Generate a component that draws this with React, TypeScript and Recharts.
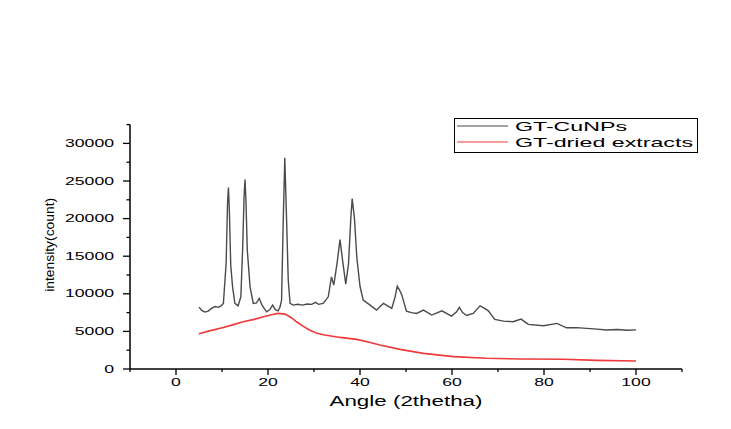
import { LineChart, Line, XAxis, YAxis, Label } from 'recharts';

// GT-CuNPs pattern
const cuAngles = [
  5.0, 5.6, 6.3, 7.0, 7.8, 8.5, 9.2, 9.8, 10.3, 10.9, 11.2, 11.4, 11.6, 11.9, 12.3, 12.8, 13.5,
  14.1, 14.5, 14.8, 15.0, 15.2, 15.5, 16.1, 16.8, 17.5, 18.1, 18.7, 19.7, 20.4, 21.0, 21.6, 22.2,
  22.6, 22.95, 23.3, 23.65, 24.0, 24.4, 24.8, 25.5, 26.5, 27.5, 28.5, 29.5, 30.3, 31.0, 32.0,
  33.1, 33.8, 34.3, 35.0, 35.65, 36.2, 36.9, 37.5, 38.0, 38.3, 38.8, 39.3, 40.0, 40.7, 42.2,
  43.6, 44.3, 45.1, 46.0, 46.9, 47.6, 48.1, 48.6, 49.1, 50.1, 51.2, 52.3, 53.8, 55.6, 57.8,
  59.9, 61.0, 61.6, 62.3, 63.2, 64.6, 66.1, 67.0, 67.9, 69.3, 71.2, 73.3, 75.0, 76.6, 79.9,
  82.8, 84.9, 87.0, 89.3, 91.5, 93.6, 96.0, 98.0, 100.0,
];
const cuCounts = [
  8230, 7800, 7570, 7700, 8100, 8300, 8200, 8400, 8720, 14070, 22000, 24120, 21000, 13800, 10930, 8720, 8400,
  9600, 16240, 23000, 25180, 22500, 15800, 10930, 8720, 8800, 9380, 8500, 7610, 7900, 8500, 7900, 7740,
  8200, 9160, 19340, 28100, 20670, 11810, 8720, 8500, 8600, 8500, 8650, 8600, 8870, 8600, 8720,
  9600, 12250, 11150, 14000, 17200, 14500, 11280, 14000, 20000, 22660, 20000, 14900, 11000, 9160, 8500,
  7830, 8270, 8720, 8400, 8050, 9500, 11020, 10500, 9820, 7700, 7500, 7390, 7830, 7170, 7740,
  7040, 7600, 8190, 7500, 7120, 7390, 8400, 8100, 7740, 6590, 6370, 6280, 6640, 5930, 5750,
  6060, 5480, 5500, 5400, 5300, 5180, 5250, 5150, 5200,
];

// GT-dried extracts pattern
const extractAngles = [
  5.0, 5.2, 7.5, 10.3, 12.5, 14.6, 17.0, 19.0, 21.0, 22.2, 23.7, 25.0, 26.2, 27.6, 29.1, 30.5,
  32.0, 35.7, 39.3, 42.0, 44.3, 48.7, 53.8, 60.3, 67.5, 74.8, 84.2, 91.5, 100.0,
];
const extractCounts = [
  4650, 4730, 5100, 5530, 5900, 6280, 6600, 6940, 7250, 7390, 7300, 6850, 6280, 5700, 5150, 4800,
  4550, 4200, 3940, 3550, 3190, 2610, 2080, 1640, 1420, 1330, 1290, 1150, 1060,
];

const seriesNames = ['GT-CuNPs', 'GT-dried extracts'];
const xTicks = [-10, 0, 10, 20, 30, 40, 50, 60, 70, 80, 90, 100, 110];
const yTicks = [0, 2500, 5000, 7500, 10000, 12500, 15000, 17500, 20000, 22500, 25000, 27500, 30000, 32500];

const cuData = cuAngles.map((x, i) => ({ x, y: cuCounts[i] }));
const extractData = extractAngles.map((x, i) => ({ x, y: extractCounts[i] }));

const FONT = '"Liberation Sans", Arial, sans-serif';
const CHAR_W = 9.8;
const GRAY = '#4a4a4a';
const RED = '#ee3a3a';

const XTick = (props: any) => {
  const { x, y, payload } = props;
  const v = payload.value;
  const major = v % 20 === 0 && v >= 0 && v <= 100;
  const s = String(v);
  return (
    <g>
      <line x1={x} x2={x} y1={y} y2={y + (major ? 6 : 3)} stroke="#000" strokeWidth={1.3} />
      {major && (
        <text x={x} y={y + 16.5} textAnchor="middle" fontSize={10} fontFamily={FONT} fill="#000"
          textLength={s.length * CHAR_W} lengthAdjust="spacingAndGlyphs">{s}</text>
      )}
    </g>
  );
};

const YTick = (props: any) => {
  const { x, y, payload } = props;
  const v = payload.value;
  const major = v % 5000 === 0 && v <= 30000;
  const s = String(v);
  return (
    <g>
      <line x1={x} x2={x - (major ? 7 : 3.5)} y1={y} y2={y} stroke="#000" strokeWidth={1.3} />
      {major && (
        <text x={x - 16} y={y + 3.6} textAnchor="end" fontSize={10} fontFamily={FONT} fill="#000"
          textLength={s.length * CHAR_W} lengthAdjust="spacingAndGlyphs">{s}</text>
      )}
    </g>
  );
};

const XTitle = (props: any) => {
  const vb = props.viewBox;
  return (
    <text x={vb.x + vb.width / 2} y={vb.y + 36.5} textAnchor="middle" fontSize={15} fontFamily={FONT}
      fill="#000" textLength={153} lengthAdjust="spacingAndGlyphs">Angle (2thetha)</text>
  );
};

const YTitle = (props: any) => {
  const vb = props.viewBox;
  const cx = vb.x - 1;
  const cy = vb.y + vb.height / 2 - 2;
  return (
    <text x={cx} y={cy} dy="0.35em" textAnchor="middle" fontSize={13} fontFamily={FONT} fill="#000"
      transform={`rotate(-90 ${cx} ${cy})`} textLength={94} lengthAdjust="spacingAndGlyphs">intensity(count)</text>
  );
};

const LegendBox = () => (
  <div style={{ position: 'absolute', left: 454, top: 118 }}>
    <svg width={244} height={35}>
      <rect x={0.5} y={0.5} width={243} height={34} fill="#fff" stroke="#000" strokeWidth={1} />
      <line x1={3} x2={54} y1={8} y2={8} stroke={GRAY} strokeWidth={1.2} />
      <line x1={3} x2={54} y1={24} y2={24} stroke={RED} strokeWidth={1.2} />
      <text x={61} y={13} fontSize={13} fontFamily={FONT} fill="#000" textLength={112}
        lengthAdjust="spacingAndGlyphs">{seriesNames[0]}</text>
      <text x={61} y={29} fontSize={13} fontFamily={FONT} fill="#000" textLength={178}
        lengthAdjust="spacingAndGlyphs">{seriesNames[1]}</text>
    </svg>
  </div>
);

export default function App() {
  return (
    <div style={{ position: 'absolute', left: 0, top: 0, width: 731, height: 429, background: '#fff' }}>
      <LineChart width={731} height={429} margin={{ top: 124.6, right: 49, bottom: 20, left: 50 }}>
        <XAxis dataKey="x" type="number" domain={[-10, 110]} ticks={xTicks} interval={0}
          allowDataOverflow stroke="#000" strokeWidth={1.5} tickLine={false} tickSize={0} tickMargin={0}
          tick={<XTick />} height={40} label={<Label content={<XTitle />} />} />
        <YAxis type="number" domain={[0, 32500]} ticks={yTicks} interval={0} allowDataOverflow
          stroke="#000" strokeWidth={1.5} tickLine={false} tickSize={0} tickMargin={0}
          tick={<YTick />} width={80} label={<Label content={<YTitle />} />} />
        <Line data={cuData} dataKey="y" name={seriesNames[0]} type="linear" stroke={GRAY}
          strokeWidth={1.4} dot={false} isAnimationActive={false} />
        <Line data={extractData} dataKey="y" name={seriesNames[1]} type="linear" stroke={RED}
          strokeWidth={1.6} dot={false} isAnimationActive={false} />
      </LineChart>
      <LegendBox />
    </div>
  );
}
